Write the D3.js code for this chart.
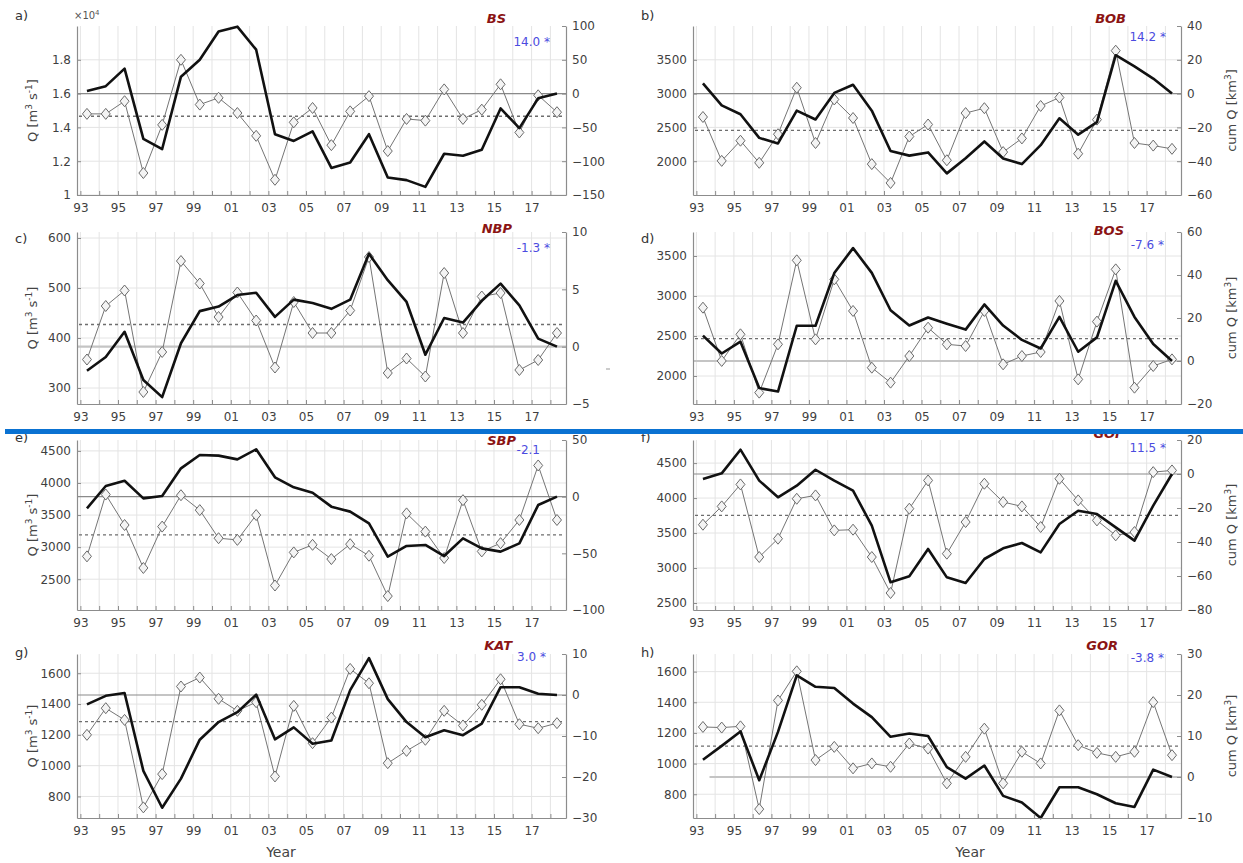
<!DOCTYPE html>
<html>
<head>
<meta charset="utf-8">
<script src="https://cdn.jsdelivr.net/npm/d3@7"></script>
<style>
  body { margin: 0; background: #fff; }
  svg { font-family: "DejaVu Sans", sans-serif; }
</style>
</head>
<body>
<div id="container"></div>
<script>
// hydrological years, one value per year
var years = [1993, 1994, 1995, 1996, 1997, 1998, 1999, 2000, 2001, 2002, 2003, 2004, 2005,
             2006, 2007, 2008, 2009, 2010, 2011, 2012, 2013, 2014, 2015, 2016, 2017, 2018];

// annual discharge Q [m3 s-1]
var qBS  = [14800, 14800, 15550, 11300, 14150, 18000, 15350, 15750, 14850, 13500, 10900, 14300, 15150,
            12950, 14950, 15850, 12600, 14500, 14400, 16250, 14500, 15050, 16550, 13700, 15900, 14900];
var qBOB = [2654, 2005, 2303, 1976, 2399, 3087, 2269, 2913, 2639, 1957, 1678, 2365, 2543,
            2014, 2712, 2784, 2135, 2337, 2817, 2942, 2111, 2615, 3635, 2269, 2231, 2183];
var qNBP = [357, 464, 495, 292, 372, 554, 509, 442, 491, 435, 341, 472, 410,
            410, 455, 562, 330, 359, 323, 530, 410, 483, 490, 336, 356, 410];
var qBOS = [2854, 2188, 2521, 1792, 2396, 3446, 2458, 3208, 2813, 2104, 1917, 2250, 2604,
            2396, 2375, 2813, 2146, 2250, 2300, 2938, 1958, 2680, 3333, 1854, 2125, 2208];
var qSBP = [2856, 3820, 3345, 2675, 3320, 3809, 3577, 3139, 3113, 3500, 2402, 2918, 3036,
            2814, 3046, 2866, 2237, 3526, 3242, 2830, 3732, 2933, 3062, 3423, 4273, 3423];
var qGOF = [3619, 3881, 4195, 3157, 3419, 3990, 4038, 3538, 3548, 3157, 2643, 3848, 4252,
            3205, 3657, 4205, 3943, 3881, 3586, 4276, 3967, 3681, 3467, 3514, 4371, 4395];
var qKAT = [1200, 1373, 1297, 729, 945, 1514, 1572, 1434, 1356, 1412, 930, 1388, 1146,
            1312, 1628, 1535, 1016, 1096, 1168, 1356, 1261, 1395, 1561, 1269, 1243, 1276];
var qGOR = [1239, 1235, 1243, 703, 1412, 1602, 1023, 1109, 969, 1001, 979, 1131, 1098,
            871, 1044, 1228, 871, 1077, 1001, 1347, 1120, 1070, 1044, 1077, 1401, 1055];

// cumulative anomaly cum Q [km3]
var cumBS  = [4, 11, 37, -67, -82, 25, 50, 92, 99, 65, -60, -70, -56,
              -110, -102, -60, -124, -128, -138, -89, -92, -83, -22, -51, -7, 0];
var cumBOB = [6.0, -7.0, -12.2, -26.2, -29.5, -10.1, -15.3, 0.4, 5.2, -10.1, -34, -36.7, -34.8,
              -47.2, -38.3, -28.3, -38.4, -41.7, -30.5, -14.6, -24.3, -16.9, 22.7, 16.1, 8.9, 0];
var cumNBP = [-2.1, -0.9, 1.3, -2.9, -4.4, 0.3, 3.1, 3.5, 4.5, 4.7, 2.6, 4.1, 3.8,
              3.3, 4.1, 8.1, 5.8, 3.9, -0.7, 2.5, 2.1, 4.0, 5.5, 3.6, 0.7, 0];
var cumBOS = [11.8, 3.5, 9, -12.6, -14.2, 16.4, 16.4, 40.9, 52.5, 41, 23.6, 16.5, 20.2,
              17.3, 14.6, 26.3, 16.5, 9.8, 5.8, 20.5, 4.3, 11, 37.3, 20.5, 7.9, 0];
var cumSBP = [-10.3, 9.4, 14.1, -1.5, 0.6, 25, 36.8, 36.2, 32.9, 41.8, 17.1, 8.2, 3.5,
              -8.8, -13.2, -23.5, -52.9, -43.5, -42.6, -52.4, -36.8, -45.6, -48.5, -41.2, -7.4, 0];
var cumGOF = [-2.9, 0.4, 14.3, -3.9, -13.7, -6.9, 2.5, -3.9, -9.8, -30.4, -63.7, -60.2, -44.1,
              -60.8, -64.1, -50, -43.7, -40.6, -46.1, -29.4, -21.6, -23.5, -31.4, -39.2, -18.6, 0];
var cumKAT = [-2.3, -0.2, 0.5, -18.5, -27.5, -20.4, -10.9, -6.6, -4.2, 0.1, -10.8, -7.9, -11.9,
              -11.1, 1.2, 9, -1, -6.6, -10.3, -8.6, -9.8, -7, 1.9, 1.9, 0.3, 0];
var cumGOR = [4.2, 7.6, 11.1, -0.8, 11, 24.8, 22, 21.7, 17.9, 14.6, 9.8, 10.6, 10,
              2.4, -0.4, 2.8, -4.6, -6.2, -10, -2.5, -2.5, -4.2, -6.4, -7.3, 1.8, 0];

// long-term mean Q, station names, trends
var stations = ['BS', 'BOB', 'NBP', 'BOS', 'SBP', 'GOF', 'KAT', 'GOR'];
var meanQ    = [14660, 2457, 427, 2467, 3191, 3752, 1286, 1114];
var trends   = ['14.0 *', '14.2 *', '-1.3 *', '-7.6 *', '-2.1', '11.5 *', '3.0 *', '-3.8 *'];

// axis ticks
var qTicksBS  = [10000, 12000, 14000, 16000, 18000];
var qTicksBOB = [2000, 2500, 3000, 3500];
var qTicksNBP = [300, 400, 500, 600];
var qTicksBOS = [2000, 2500, 3000, 3500];
var qTicksSBP = [2500, 3000, 3500, 4000, 4500];
var qTicksGOF = [2500, 3000, 3500, 4000, 4500];
var qTicksKAT = [800, 1000, 1200, 1400, 1600];
var qTicksGOR = [800, 1000, 1200, 1400, 1600];
var cTicksBS  = [-150, -100, -50, 0, 50, 100];
var cTicksBOB = [-60, -40, -20, 0, 20, 40];
var cTicksNBP = [-5, 0, 5, 10];
var cTicksBOS = [-20, 0, 20, 40, 60];
var cTicksSBP = [-100, -50, 0, 50];
var cTicksGOF = [-80, -60, -40, -20, 0, 20];
var cTicksKAT = [-30, -20, -10, 0, 10];
var cTicksGOR = [-10, 0, 10, 20, 30];

var width = 1243, height = 863;
var svg = d3.select('#container').append('svg')
  .attr('width', width).attr('height', height);

var cols = [[77, 566], [693, 1181]];
var rows = [[26, 195], [232, 404], [440, 610], [654, 818]];
var letterY = [15, 238, 437, 652];

// layout per panel: axis ranges and label offsets [nameRight, nameY, trendRight, trendY]
var panels = [
  {letter: 'a)', q: qBS,  cum: cumBS,  qt: qTicksBS,  ct: cTicksBS,  qDom: [10000, 20000], cDom: [-150, 100], col: 0, row: 0, lab: [60, -8, 16, 16], zero: 'thin'},
  {letter: 'b)', q: qBOB, cum: cumBOB, qt: qTicksBOB, ct: cTicksBOB, qDom: [1500, 4000],   cDom: [-60, 40],   col: 1, row: 0, lab: [55, -8, 15, 11], zero: 'thin'},
  {letter: 'c)', q: qNBP, cum: cumNBP, qt: qTicksNBP, ct: cTicksNBP, qDom: [268, 612],     cDom: [-5, 10],    col: 0, row: 1, lab: [54, -4, 16, 16], zero: 'wide'},
  {letter: 'd)', q: qBOS, cum: cumBOS, qt: qTicksBOS, ct: cTicksBOS, qDom: [1650, 3800],   cDom: [-20, 60],   col: 1, row: 1, lab: [57, -2, 17, 13], zero: 'wide'},
  {letter: 'e)', q: qSBP, cum: cumSBP, qt: qTicksSBP, ct: cTicksSBP, qDom: [2020, 4670],   cDom: [-100, 50],  col: 0, row: 2, lab: [50, 0, 26, 10],  zero: 'thin'},
  {letter: 'f)', q: qGOF, cum: cumGOF, qt: qTicksGOF, ct: cTicksGOF, qDom: [2400, 4830],   cDom: [-80, 20],   col: 1, row: 2, lab: [57, -7, 15, 8],  zero: 'thin'},
  {letter: 'g)', q: qKAT, cum: cumKAT, qt: qTicksKAT, ct: cTicksKAT, qDom: [660, 1725],    cDom: [-30, 10],   col: 0, row: 3, lab: [54, -9, 20, 3],  zero: 'thin'},
  {letter: 'h)', q: qGOR, cum: cumGOR, qt: qTicksGOR, ct: cTicksGOR, qDom: [645, 1715],    cDom: [-10, 30],   col: 1, row: 3, lab: [63, -9, 17, 4],  zero: 'wide', zeroFrom: 1993.7}
];

var axisColor = '#8c8c8c', textColor = '#3f3f3f', gridColor = '#e4e4e4';
var diamond = 'M0,-5.5L4.5,0L0,5.5L-4.5,0Z';

panels.forEach(function(p, k) {
  var x0 = cols[p.col][0], x1 = cols[p.col][1];
  var top = rows[p.row][0], bottom = rows[p.row][1];

  var x = d3.scaleLinear().domain([1992.82, 2018.83]).range([x0, x1]);
  var yq = d3.scaleLinear().domain(p.qDom).range([bottom, top]);
  var yc = d3.scaleLinear().domain(p.cDom).range([bottom, top]);

  var g = svg.append('g').attr('class', 'panel');

  // grid
  g.append('g').selectAll('line.v').data(years).enter().append('line')
    .attr('x1', function(d) { return x(d); }).attr('x2', function(d) { return x(d); })
    .attr('y1', top).attr('y2', bottom)
    .attr('stroke', gridColor).attr('stroke-width', 1);
  g.append('g').selectAll('line.h').data(p.qt).enter().append('line')
    .attr('x1', x0).attr('x2', x1)
    .attr('y1', function(d) { return yq(d); }).attr('y2', function(d) { return yq(d); })
    .attr('stroke', gridColor).attr('stroke-width', 1);

  // mean Q (dashed) and zero of the cumulative curve
  g.append('line')
    .attr('x1', x0 + 2).attr('x2', x1 - 2)
    .attr('y1', yq(meanQ[k])).attr('y2', yq(meanQ[k]))
    .attr('stroke', '#6e6e6e').attr('stroke-width', 1.3).attr('stroke-dasharray', '3,3');
  g.append('line')
    .attr('x1', p.zeroFrom ? x(p.zeroFrom) : x0).attr('x2', x1)
    .attr('y1', yc(0)).attr('y2', yc(0))
    .attr('stroke', p.zero === 'wide' ? '#c4c4c4' : '#8a8a8a')
    .attr('stroke-width', p.zero === 'wide' ? 2.2 : 1.1);

  var pts = years.map(function(yr, i) { return {x: x(yr + 0.35), q: p.q[i], c: p.cum[i]}; });

  // annual Q: thin line with open diamonds
  g.append('path').datum(pts)
    .attr('fill', 'none').attr('stroke', '#757575').attr('stroke-width', 1)
    .attr('d', d3.line().x(function(d) { return d.x; }).y(function(d) { return yq(d.q); }));
  g.append('g').selectAll('path').data(pts).enter().append('path')
    .attr('d', diamond)
    .attr('transform', function(d) { return 'translate(' + d.x + ',' + yq(d.q) + ')'; })
    .attr('fill', '#f4f4f4').attr('stroke', '#6a6a6a').attr('stroke-width', 1);

  // cumulative anomaly: thick black
  g.append('path').datum(pts)
    .attr('fill', 'none').attr('stroke', '#111').attr('stroke-width', 2.6)
    .attr('stroke-linejoin', 'round')
    .attr('d', d3.line().x(function(d) { return d.x; }).y(function(d) { return yc(d.c); }));

  // axes
  var ax = g.append('g').attr('transform', 'translate(0,' + bottom + ')')
    .call(d3.axisBottom(x).tickValues(years).tickSize(-4).tickSizeOuter(0).tickPadding(8)
      .tickFormat(function(d) { return d % 2 ? String(d).slice(2) : ''; }));
  var al = g.append('g').attr('transform', 'translate(' + x0 + ',0)')
    .call(d3.axisLeft(yq).tickValues(p.qt).tickSize(-4).tickSizeOuter(0).tickPadding(6)
      .tickFormat(function(d) { return k === 0 ? String(+(d / 10000).toFixed(1)) : d; }));
  var ar = g.append('g').attr('transform', 'translate(' + x1 + ',0)')
    .call(d3.axisRight(yc).tickValues(p.ct).tickSize(-4).tickSizeOuter(0).tickPadding(6));
  [ax, al, ar].forEach(function(a) {
    a.select('.domain').attr('stroke', axisColor).attr('stroke-width', 1.2);
    a.selectAll('.tick line').attr('stroke', axisColor);
    a.selectAll('.tick text').attr('fill', textColor).style('font-size', '12px')
      .style('font-family', '"DejaVu Sans", sans-serif');
  });

  // texts
  svg.append('text')
    .attr('x', p.col === 0 ? 15 : 641).attr('y', letterY[p.row]).attr('dy', '0.35em')
    .attr('fill', '#333').style('font-size', '13px').text(p.letter);
  svg.append('text')
    .attr('x', x1 - p.lab[0]).attr('y', top + p.lab[1]).attr('dy', '0.35em')
    .attr('text-anchor', 'end').attr('fill', '#8b1414')
    .style('font-size', '13px').style('font-weight', 'bold').style('font-style', 'italic')
    .text(stations[k]);
  svg.append('text')
    .attr('x', x1 - p.lab[2]).attr('y', top + p.lab[3]).attr('dy', '0.35em')
    .attr('text-anchor', 'end').attr('fill', '#4b4be0')
    .style('font-size', '12px')
    .text(trends[k]);

  // y labels
  var mid = (top + bottom) / 2;
  if (p.col === 0) {
    var t = svg.append('text')
      .attr('transform', 'translate(32,' + mid + ') rotate(-90)')
      .attr('text-anchor', 'middle').attr('dy', '0.35em')
      .attr('fill', '#444').style('font-size', '13px');
    t.append('tspan').text('Q [m');
    t.append('tspan').attr('dy', -5).style('font-size', '9px').text('3');
    t.append('tspan').attr('dy', 5).text(' s');
    t.append('tspan').attr('dy', -5).style('font-size', '9px').text('-1');
    t.append('tspan').attr('dy', 5).text(']');
  } else {
    var t2 = svg.append('text')
      .attr('transform', 'translate(1231,' + mid + ') rotate(-90)')
      .attr('text-anchor', 'middle').attr('dy', '0.35em')
      .attr('fill', '#444').style('font-size', '13px');
    t2.append('tspan').text('cum Q [km');
    t2.append('tspan').attr('dy', -5).style('font-size', '9px').text('3');
    t2.append('tspan').attr('dy', 5).text(']');
  }
});

// exponent of panel a
var ex = svg.append('text').attr('x', 74).attr('y', 19).attr('fill', '#555').style('font-size', '10px');
ex.append('tspan').text('\u00d710');
ex.append('tspan').attr('dy', -4).style('font-size', '7px').text('4');

// x labels of the bottom row
svg.append('text').attr('x', 281).attr('y', 857).attr('text-anchor', 'middle')
  .attr('fill', '#444').style('font-size', '14px').text('Year');
svg.append('text').attr('x', 970).attr('y', 857).attr('text-anchor', 'middle')
  .attr('fill', '#444').style('font-size', '14px').text('Year');

// small stray mark right of panel c
svg.append('line').attr('x1', 606).attr('x2', 610).attr('y1', 369).attr('y2', 369)
  .attr('stroke', '#999').attr('stroke-width', 1);

// blue separator across the figure
svg.append('rect').attr('x', 5).attr('y', 429).attr('width', width - 5).attr('height', 5)
  .attr('fill', '#0a72d2');
</script>
</body>
</html>
